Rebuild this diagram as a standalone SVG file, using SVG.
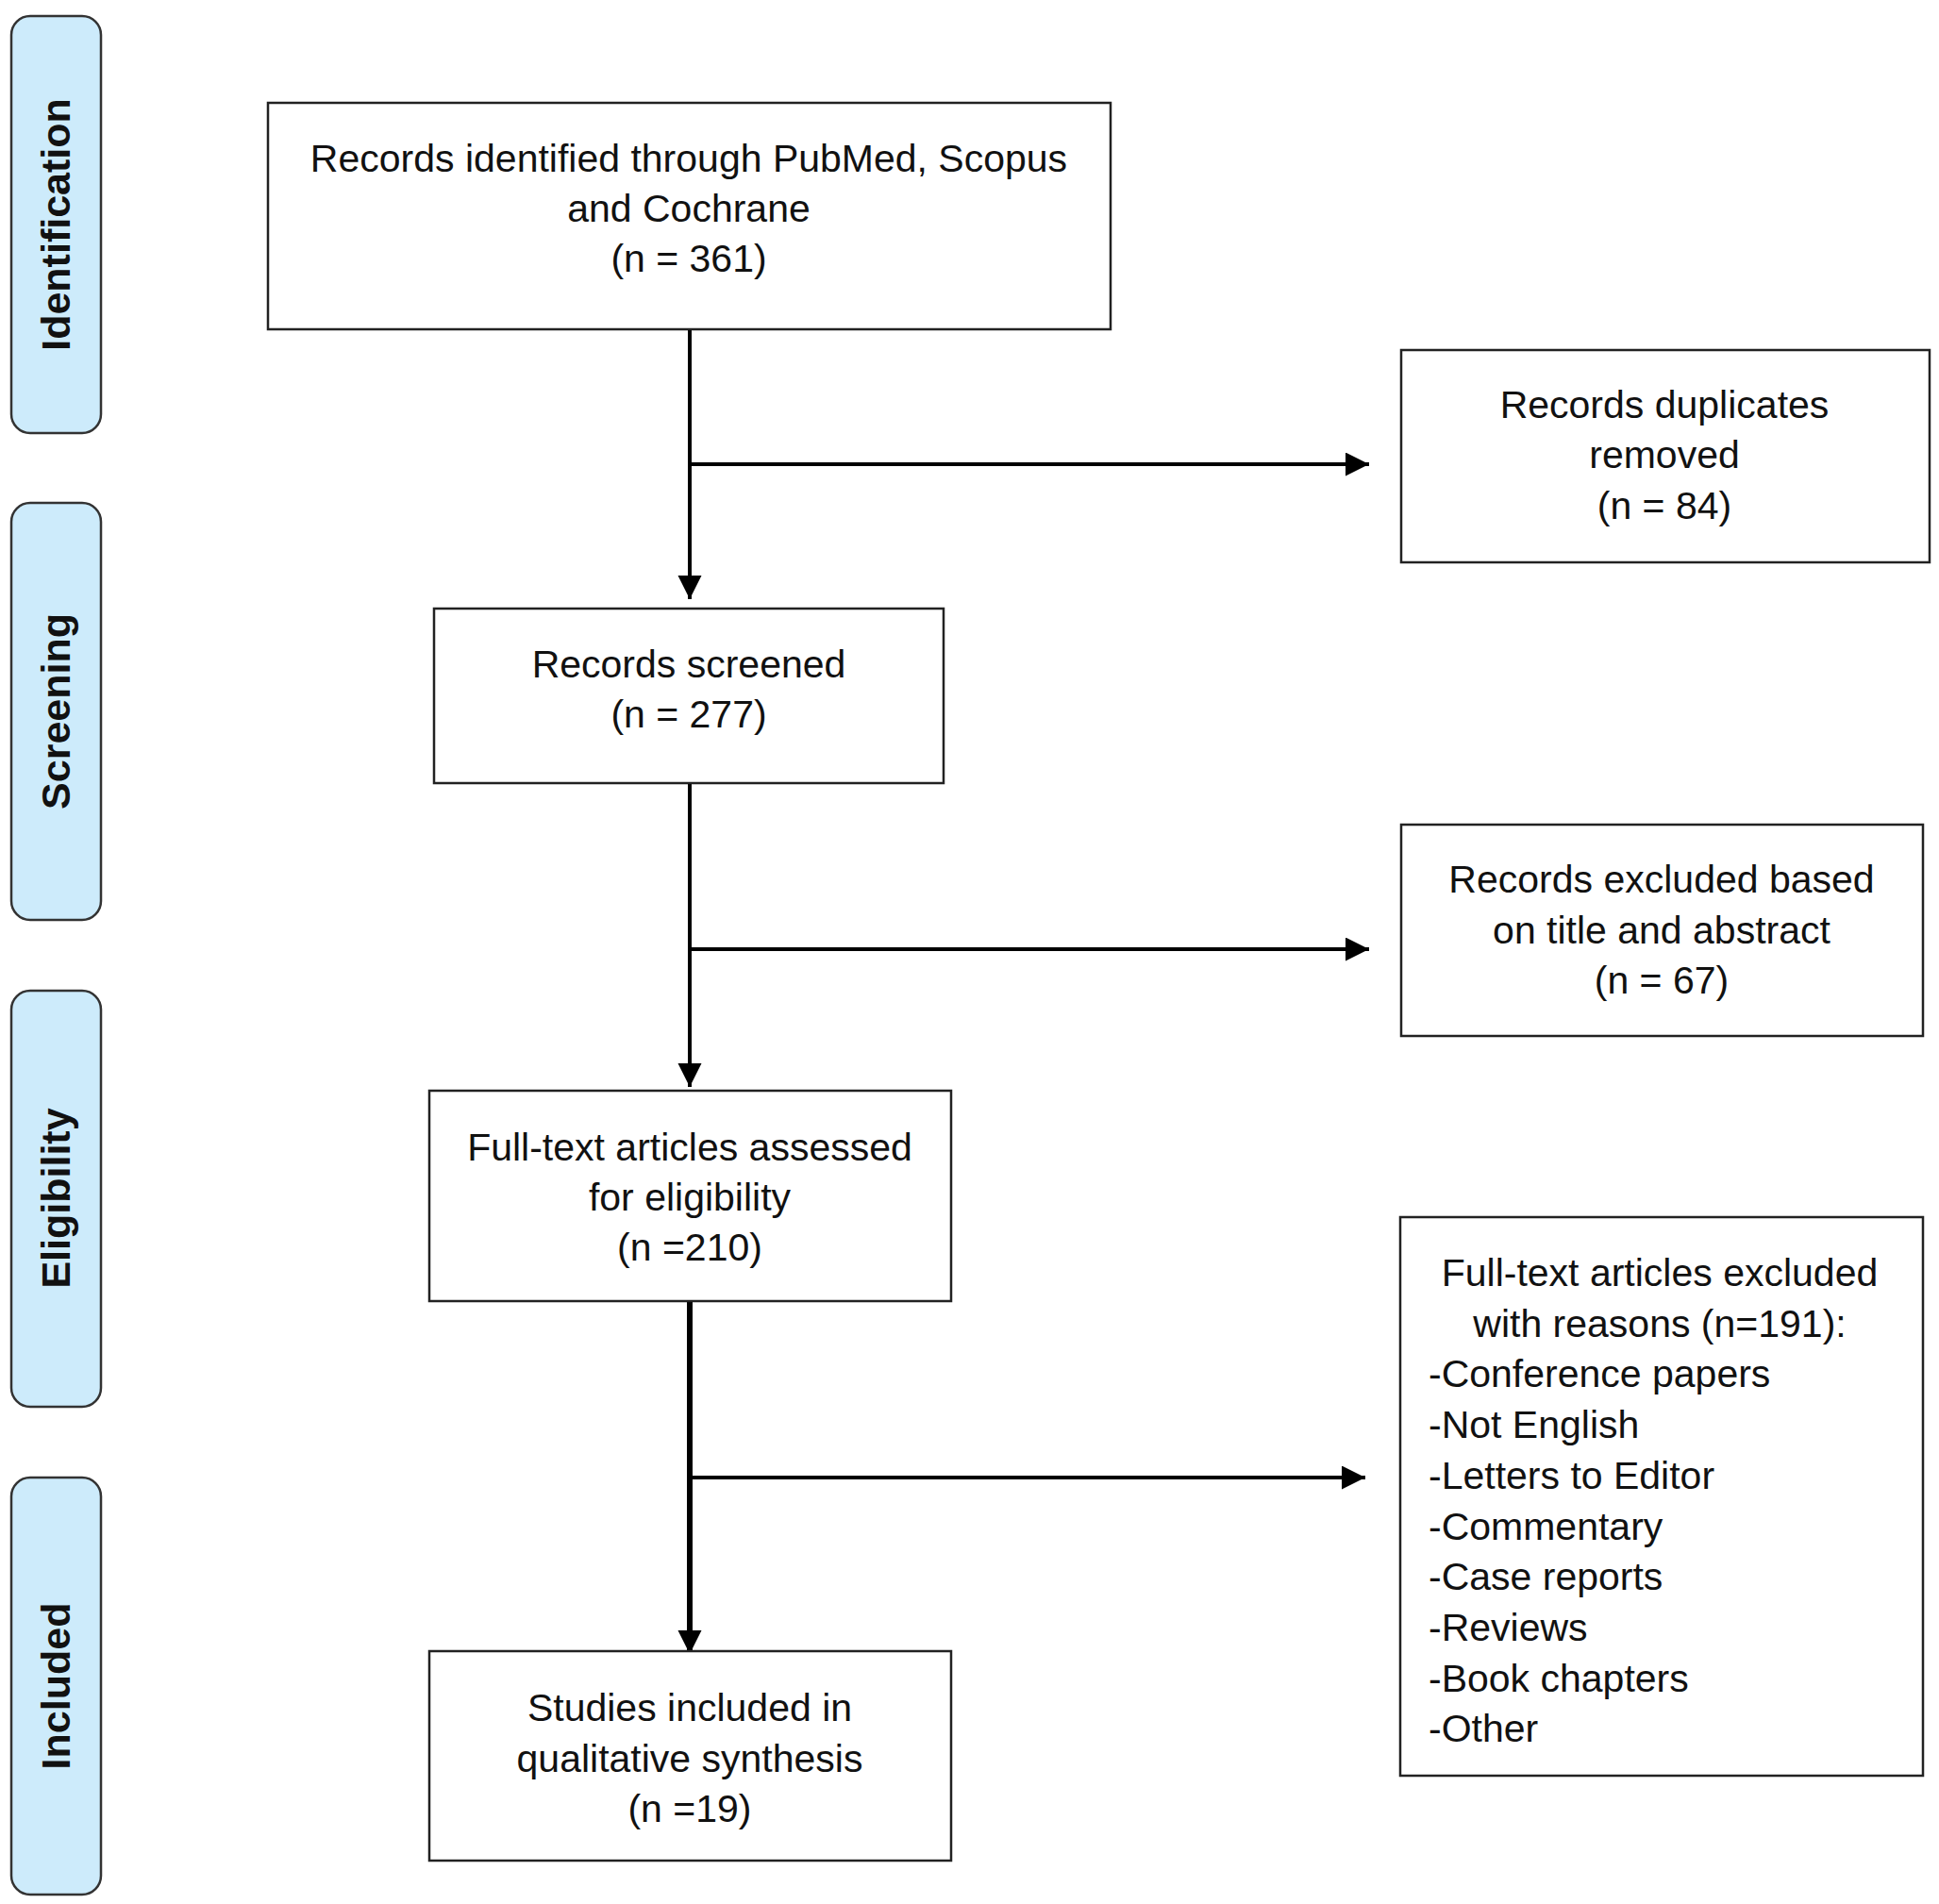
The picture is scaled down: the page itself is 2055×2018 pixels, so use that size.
<svg xmlns="http://www.w3.org/2000/svg" width="2055" height="2018" viewBox="0 0 2055 2018">
<style>
.tab{fill:#CDEBFB;stroke:#333;stroke-width:2.5}
.tabt{font-family:"Liberation Sans",Arial,sans-serif;font-weight:bold;font-size:43px;fill:#111;text-anchor:middle;dominant-baseline:central}
.box{fill:#fff;stroke:#222;stroke-width:2.5}
.t{font-family:"Liberation Sans",Arial,sans-serif;font-size:41px;fill:#111;text-anchor:middle}
.tl{font-family:"Liberation Sans",Arial,sans-serif;font-size:41px;fill:#111;text-anchor:start}
.c{fill:none;stroke:#000;stroke-width:4}
.ck{fill:none;stroke:#000;stroke-width:6}
</style>
<defs>
<marker id="ah" markerUnits="userSpaceOnUse" markerWidth="27" markerHeight="27" refX="25" refY="12.5" orient="auto">
<path d="M0,0 L25,12.5 L0,25 z" fill="#000"/>
</marker>
</defs>
<rect width="2055" height="2018" fill="#fff"/>
<g id="tab-identification">
<rect class="tab" x="12" y="17" width="95" height="442" rx="20"/>
<text class="tabt" transform="translate(59,238) rotate(-90)">Identification</text>
</g>
<g id="tab-screening">
<rect class="tab" x="12" y="533" width="95" height="442" rx="20"/>
<text class="tabt" transform="translate(59,754) rotate(-90)">Screening</text>
</g>
<g id="tab-eligibility">
<rect class="tab" x="12" y="1050" width="95" height="441" rx="20"/>
<text class="tabt" transform="translate(59,1270) rotate(-90)">Eligibility</text>
</g>
<g id="tab-included">
<rect class="tab" x="12" y="1566" width="95" height="442" rx="20"/>
<text class="tabt" transform="translate(59,1787) rotate(-90)">Included</text>
</g>
<g id="connectors">
<path class="c" d="M731,349 V635" marker-end="url(#ah)"/>
<path class="c" d="M731,492 H1451" marker-end="url(#ah)"/>
<path class="c" d="M731,830 V1152" marker-end="url(#ah)"/>
<path class="c" d="M731,1006 H1451" marker-end="url(#ah)"/>
<path class="ck" d="M731,1379 V1753" marker-end="url(#ah)"/>
<path class="c" d="M731,1566 H1447" marker-end="url(#ah)"/>
</g>
<g id="records-identified">
<rect class="box" x="284" y="109" width="893" height="240"/>
<text class="t" x="730" y="182">Records identified through PubMed, Scopus</text>
<text class="t" x="730" y="235">and Cochrane</text>
<text class="t" x="730" y="288">(n = 361)</text>
</g>
<g id="duplicates-removed">
<rect class="box" x="1485" y="371" width="560" height="225"/>
<text class="t" x="1764" y="443">Records duplicates</text>
<text class="t" x="1764" y="496">removed</text>
<text class="t" x="1764" y="550">(n = 84)</text>
</g>
<g id="records-screened">
<rect class="box" x="460" y="645" width="540" height="185"/>
<text class="t" x="730" y="718">Records screened</text>
<text class="t" x="730" y="771">(n = 277)</text>
</g>
<g id="records-excluded">
<rect class="box" x="1485" y="874" width="553" height="224"/>
<text class="t" x="1761" y="946">Records excluded based</text>
<text class="t" x="1761" y="1000">on title and abstract</text>
<text class="t" x="1761" y="1053">(n = 67)</text>
</g>
<g id="fulltext-assessed">
<rect class="box" x="455" y="1156" width="553" height="223"/>
<text class="t" x="731" y="1230">Full-text articles assessed</text>
<text class="t" x="731" y="1283">for eligibility</text>
<text class="t" x="731" y="1336">(n =210)</text>
</g>
<g id="fulltext-excluded">
<rect class="box" x="1484" y="1290" width="554" height="592"/>
<text class="t" x="1759" y="1363">Full-text articles excluded</text>
<text class="t" x="1759" y="1417">with reasons (n=191):</text>
<text class="tl" x="1514" y="1470">-Conference papers</text>
<text class="tl" x="1514" y="1524">-Not English</text>
<text class="tl" x="1514" y="1578">-Letters to Editor</text>
<text class="tl" x="1514" y="1632">-Commentary</text>
<text class="tl" x="1514" y="1685">-Case reports</text>
<text class="tl" x="1514" y="1739">-Reviews</text>
<text class="tl" x="1514" y="1793">-Book chapters</text>
<text class="tl" x="1514" y="1846">-Other</text>
</g>
<g id="studies-included">
<rect class="box" x="455" y="1750" width="553" height="222"/>
<text class="t" x="731" y="1824">Studies included in</text>
<text class="t" x="731" y="1878">qualitative synthesis</text>
<text class="t" x="731" y="1931">(n =19)</text>
</g>
</svg>
